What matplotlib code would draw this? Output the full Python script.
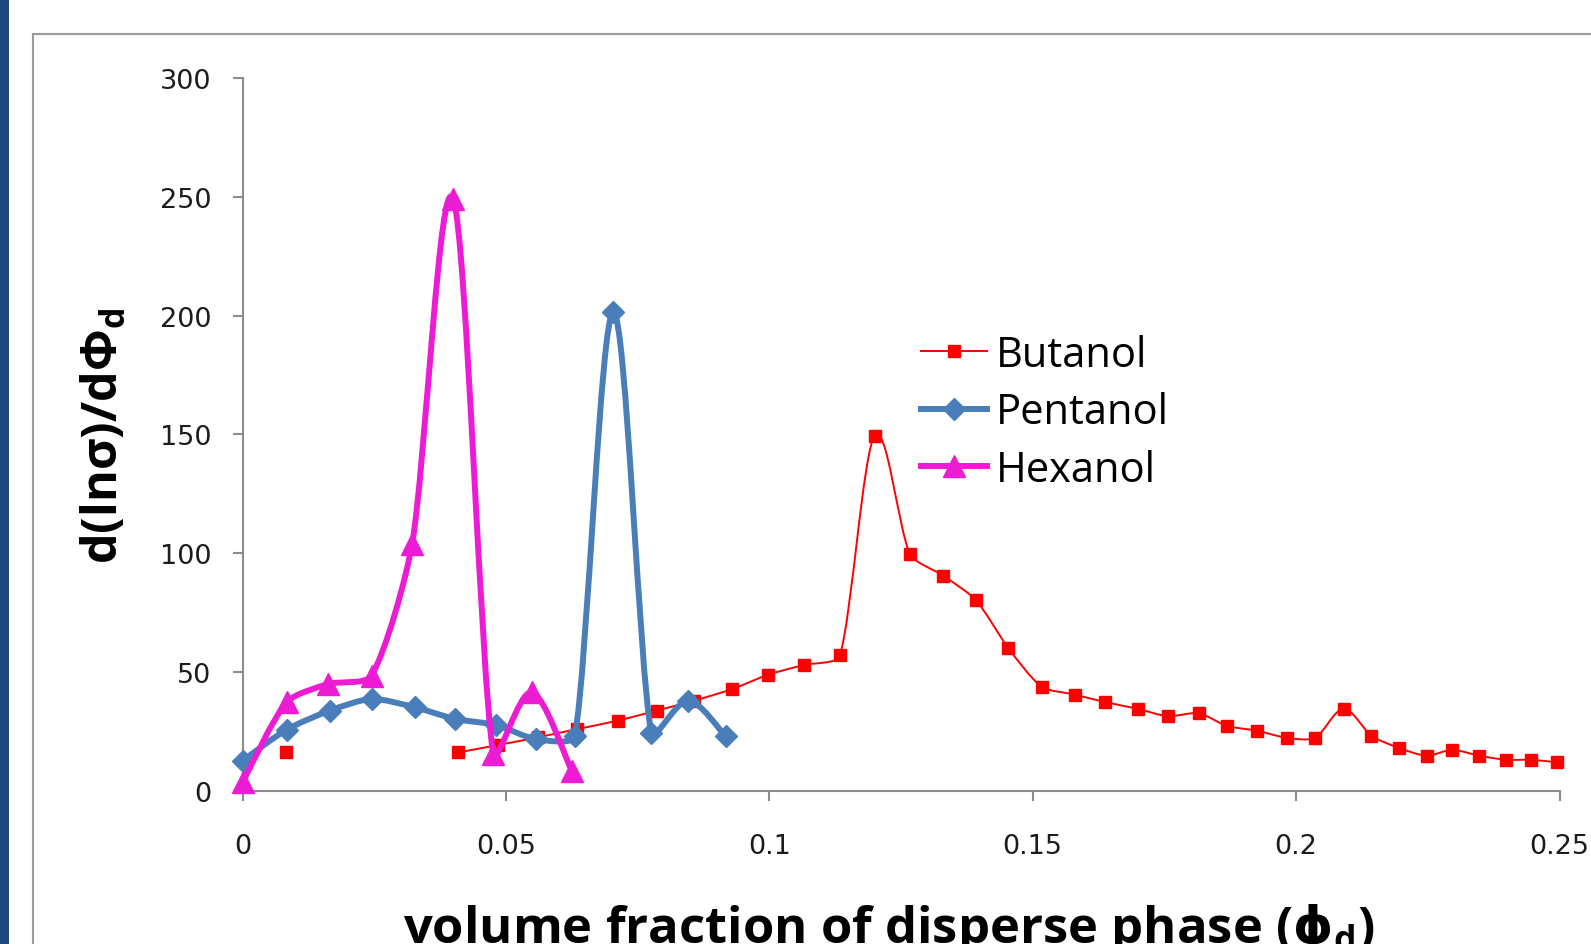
import numpy as np
import matplotlib
matplotlib.use("Agg")
from matplotlib import pyplot as plt
from matplotlib.path import Path
from matplotlib.patches import PathPatch, Rectangle
from matplotlib.lines import Line2D
from matplotlib.ticker import FuncFormatter

# data (NaN = blank cell, Excel leaves a gap)
butanol_x = [0.0083, np.nan, 0.041, 0.0485, 0.056, 0.0635, 0.0713, 0.0786, 0.0858,
             0.093, 0.0998, 0.1065, 0.1134, 0.120, 0.1267, 0.133, 0.1392, 0.1454,
             0.1517, 0.158, 0.1637, 0.170, 0.1757, 0.1815, 0.1868, 0.1926, 0.1983,
             0.2036, 0.209, 0.2143, 0.2195, 0.2248, 0.2296, 0.2348, 0.2398, 0.2446,
             0.2495]
butanol_y = [16.2, np.nan, 16.2, 19.3, 22.5, 26.0, 29.6, 33.8, 38.0,
             42.9, 48.9, 53.0, 57.0, 149.5, 99.7, 90.6, 80.3, 60.0,
             43.9, 40.5, 37.4, 34.5, 31.4, 32.7, 27.4, 25.3, 22.3,
             22.3, 34.5, 23.2, 18.1, 14.8, 17.3, 14.8, 13.1, 13.1,
             12.0]

pentanol_x = [0.0, 0.0084, 0.0166, 0.0245, 0.0327, 0.0403, 0.0482, 0.0557, 0.0631,
              0.0704, 0.0776, 0.0846, 0.0917]
pentanol_y = [12.7, 25.8, 33.8, 38.7, 35.2, 30.3, 27.7, 21.8, 23.2,
              201.4, 24.4, 38.0, 23.0]

hexanol_x = [0.0, 0.0084, 0.0163, 0.0245, 0.0322, 0.040, 0.0476, 0.0549, 0.0625]
hexanol_y = [3.6, 37.3, 45.0, 48.5, 103.9, 249.0, 15.5, 41.5, 8.5]

series_names = ["Butanol", "Pentanol", "Hexanol"]
x_ticks = [0, 0.05, 0.1, 0.15, 0.2, 0.25]
y_ticks = [0, 50, 100, 150, 200, 250, 300]
XMAX, YMAX = 0.25, 300

W, H = 1591, 945
x0, x1 = 242.5, 1559.5     # axes edges in pixels
y0, y1 = 791.9, 79.0
SX = (x1 - x0) / XMAX      # pixel per data unit, used only to shape the curve
SY = (y0 - y1) / YMAX


def smooth_path(x, y):
    # roughly Excel's "smoothed line": Bezier segments, tangents along the
    # neighbour chord, handle length capped by the segment length
    p = np.column_stack([np.asarray(x) * SX, np.asarray(y) * SY])
    n = len(p)
    dirs, spans = [], []
    for i in range(n):
        a = p[max(i - 1, 0)]
        b = p[min(i + 1, n - 1)]
        d = b - a
        L = np.hypot(*d)
        dirs.append(d / L if L > 0 else d)
        spans.append(L)
    verts = [p[0]]
    codes = [Path.MOVETO]
    for i in range(n - 1):
        seg = np.hypot(*(p[i + 1] - p[i]))
        h1 = min(spans[i] / 6.0, seg / 4.0)
        h2 = min(spans[i + 1] / 6.0, seg / 4.0)
        verts += [p[i] + dirs[i] * h1, p[i + 1] - dirs[i + 1] * h2, p[i + 1]]
        codes += [Path.CURVE4] * 3
    verts = np.array(verts) / [SX, SY]
    return Path(verts, codes)


def draw_series(ax, x, y, color, lw, marker, ms, z):
    x = np.asarray(x, float)
    y = np.asarray(y, float)
    ok = ~np.isnan(x)
    idx = np.where(ok)[0]
    runs = np.split(idx, np.where(np.diff(idx) != 1)[0] + 1)
    for r in runs:
        if len(r) > 1:
            ax.add_patch(PathPatch(smooth_path(x[r], y[r]), fill=False,
                                   edgecolor=color, lw=lw, zorder=z,
                                   capstyle="round", joinstyle="round"))
    ax.plot(x[ok], y[ok], ls="none", marker=marker, ms=ms, color=color,
            mec=color, zorder=z + 0.5, clip_on=False)
    return Line2D([], [], color=color, lw=lw, marker=marker, ms=ms, mec=color)


plt.rcParams["mathtext.fontset"] = "dejavusans"

fig = plt.figure(figsize=(W / 100, H / 100), dpi=100)
fig.patch.set_facecolor("white")

# slide frame bits
fig.add_artist(Rectangle((0, 0), 9 / W, 1, transform=fig.transFigure,
                         facecolor="#1F497D", edgecolor="none"))
fig.add_artist(Rectangle((33 / W, -0.2), 2, 1.2 - 35 / H, transform=fig.transFigure,
                         facecolor="none", edgecolor="#9A9A9A", lw=1.5))

ax = fig.add_axes([x0 / W, 1 - y0 / H, (x1 - x0) / W, (y0 - y1) / H])
ax.set_facecolor("none")
ax.set_xlim(0, XMAX)
ax.set_ylim(0, YMAX)

h_but = draw_series(ax, butanol_x, butanol_y, "#FF0000", 1.4, "s", 9, 2)
h_pen = draw_series(ax, pentanol_x, pentanol_y, "#4A7EBB", 4.3, "D", 11, 3)
h_hex = draw_series(ax, hexanol_x, hexanol_y, "#EC1CD4", 4.3, "^", 16, 4)

ax.set_xticks(x_ticks)
ax.set_yticks(y_ticks)
ax.xaxis.set_major_formatter(FuncFormatter(lambda v, p: "%g" % v))
for s in ["top", "right"]:
    ax.spines[s].set_visible(False)
for s in ["left", "bottom"]:
    ax.spines[s].set_color("#8C8C8C")
    ax.spines[s].set_linewidth(1.5)
ax.tick_params(axis="both", direction="out", length=7.5, width=1.5,
               color="#8C8C8C", labelcolor="#1C1C1C", labelsize=19.5)
ax.tick_params(axis="x", pad=23)
ax.tick_params(axis="y", pad=15)

fig.legend([h_but, h_pen, h_hex], series_names, loc="upper left",
           bbox_to_anchor=(921 / W, 1 - 335 / H), frameon=False, borderpad=0,
           borderaxespad=0, handlelength=1.58, handletextpad=0.22,
           labelspacing=0.37, prop={"family": ["Open Sans", "DejaVu Sans"], "size": 30})

fig.text(105 / W, 1 - 436 / H, "d(lnσ)/dΦ$_\\mathregular{d}$", rotation=90,
         ha="center", va="center", fontsize=35, fontweight="bold",
         family=["Open Sans", "DejaVu Sans"])
fig.text(889 / W, 1 - 943 / H,
         "volume fraction of disperse phase ($\\mathbf{\\phi}_\\mathregular{d}$)",
         ha="center", va="baseline", fontsize=36.5, fontweight="bold",
         family=["Open Sans", "DejaVu Sans"])

fig.savefig("out.png", dpi=100)
